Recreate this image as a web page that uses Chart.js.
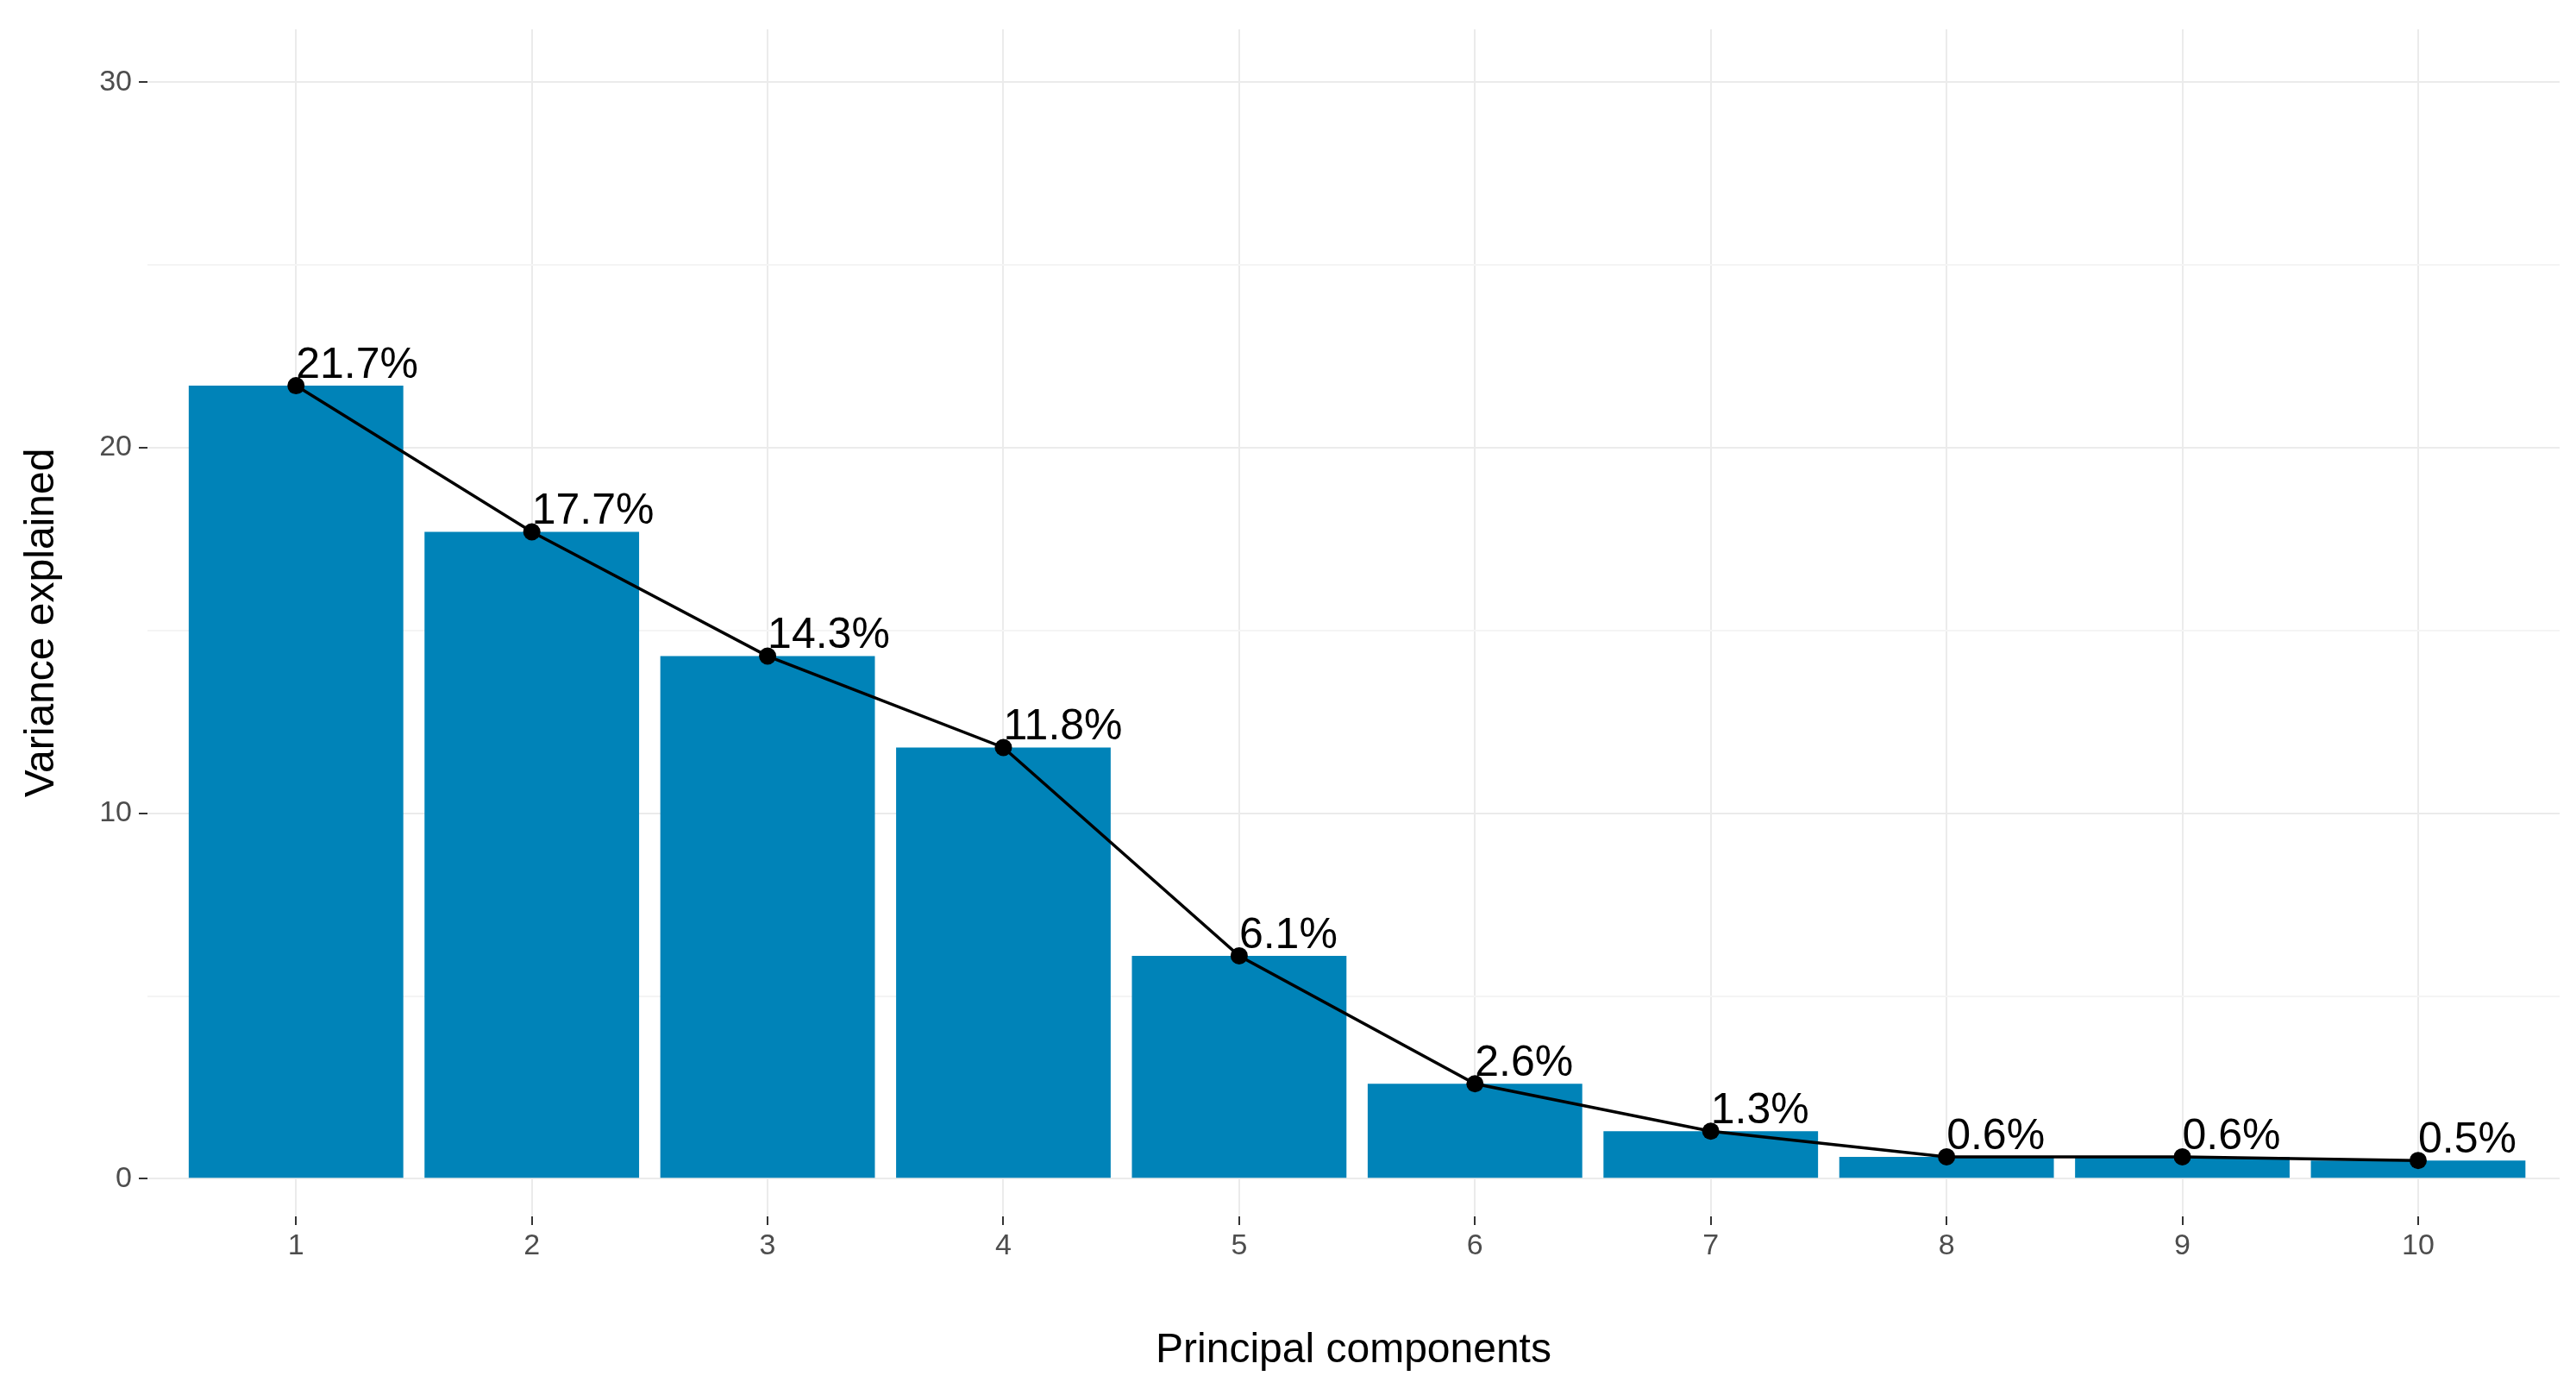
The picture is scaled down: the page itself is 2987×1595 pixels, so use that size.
<!DOCTYPE html>
<html><head><meta charset="utf-8">
<script src="https://cdn.jsdelivr.net/npm/chart.js@4/dist/chart.umd.min.js"></script>
<style>html,body{margin:0;padding:0;background:#fff}#w{width:2987px;height:1595px}</style>
</head><body><div id="w"><canvas id="c"></canvas></div>
<script>
const components = [1,2,3,4,5,6,7,8,9,10];
const variance = [21.7,17.7,14.3,11.8,6.1,2.6,1.3,0.6,0.6,0.5];
const labels = ["21.7%","17.7%","14.3%","11.8%","6.1%","2.6%","1.3%","0.6%","0.6%","0.5%"];
const yTicks = [0,10,20,30];

const pts = components.map((c,i)=>({x:c,y:variance[i]}));
const labelPlugin = {
  id:'lbl',
  afterDatasetsDraw(chart){
    const {ctx,scales:{x,y}} = chart;
    ctx.save();
    ctx.font = '50px "Liberation Sans", Arial, sans-serif';
    ctx.fillStyle = '#000';
    ctx.textBaseline = 'bottom';
    ctx.textAlign = 'left';
    components.forEach((c,i)=>ctx.fillText(labels[i], x.getPixelForValue(c), y.getPixelForValue(variance[i]) + 2));
    ctx.restore();
  }
};
new Chart(document.getElementById('c'), {
  type:'bar',
  data:{datasets:[
    {type:'line', data:pts, borderColor:'#000', borderWidth:3.5, pointRadius:10, pointBackgroundColor:'#000', pointBorderWidth:0, tension:0, order:0},
    {type:'bar', data:pts, backgroundColor:'#0083B8', barPercentage:0.91, categoryPercentage:1, order:1}
  ]},
  options:{
    responsive:true, maintainAspectRatio:false, animation:false,
    layout:{padding:{top:34,right:19,left:0,bottom:0}},
    plugins:{legend:{display:false},tooltip:{enabled:false}},
    scales:{
      x:{type:'linear', min:0.37, max:10.6, offset:false,
        afterBuildTicks:s=>{s.ticks=components.map(v=>({value:v}));},
        afterFit:s=>{s.height=185;},
        grid:{offset:false, color:'#ebebeb', lineWidth:2, tickLength:10, tickColor:'#333', drawTicks:true},
        border:{display:false},
        ticks:{color:'#4d4d4d', font:{size:34, family:'"Liberation Sans", Arial'}, padding:4},
        title:{display:true, text:'Principal components', color:'#000', font:{size:48, family:'"Liberation Sans", Arial'}, padding:{top:2,bottom:0}}
      },
      y:{min:-1.03, max:31.45,
        afterBuildTicks:s=>{s.ticks=[0,5,10,15,20,25,30].map(v=>({value:v}));},
        afterFit:s=>{s.width=171;},
        grid:{color:c=>(c.tick&&c.tick.value%10===0)?'#ebebeb':'#f4f4f4', lineWidth:2, tickLength:10,
              tickColor:c=>(c.tick&&c.tick.value%10===0)?'#333':'rgba(0,0,0,0)'},
        border:{display:false},
        ticks:{color:'#4d4d4d', font:{size:34, family:'"Liberation Sans", Arial'}, padding:8,
          callback:v=>yTicks.includes(v)?String(v):''},
        title:{display:true, text:'Variance explained', color:'#000', font:{size:48, family:'"Liberation Sans", Arial'}, padding:{top:20,bottom:4}}
      }
    }
  },
  plugins:[labelPlugin]
});
</script></body></html>
